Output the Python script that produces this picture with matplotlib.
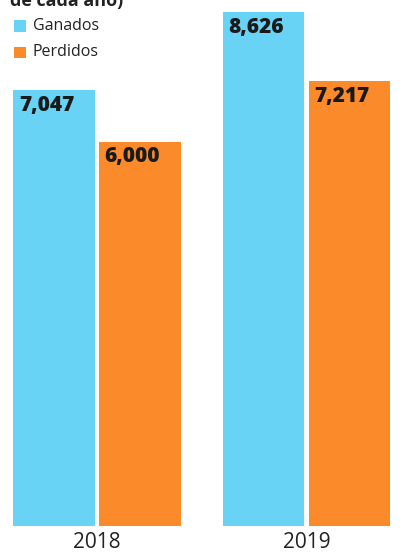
import matplotlib
matplotlib.use("Agg")
import matplotlib.pyplot as plt
import numpy as np

years = ["2018", "2019"]
ganados = [7047, 8626]
perdidos = [6000, 7217]
labels_g = ["7,047", "8,626"]
labels_p = ["6,000", "7,217"]
series_names = ["Ganados", "Perdidos"]

BLUE = "#68d3f4"
ORANGE = "#fa8a2a"

W, H = 403, 555
fig = plt.figure(figsize=(W / 100, H / 100), dpi=100)
fig.patch.set_facecolor("white")

ax = fig.add_axes([0, (H - 526) / H, 1, 526 / H])
base = -1780
x = np.arange(len(years))
w = 0.39
off = 0.205
ax.bar(x - off, np.array(ganados) - base, w, bottom=base, color=BLUE, linewidth=0)
ax.bar(x + off, np.array(perdidos) - base, w, bottom=base, color=ORANGE, linewidth=0)
ax.set_xlim(-0.463, 1.461)
ax.set_ylim(base, 8866)
ax.axis("off")

bold_font = ["Open Sans", "DejaVu Sans"]
for i in range(len(years)):
    ax.annotate(labels_g[i], (x[i] - off - w / 2, ganados[i]), xytext=(4, -3.5),
                textcoords="offset points", ha="left", va="top",
                fontsize=15, fontweight=800, family=bold_font, color="#1a1a1a")
    ax.annotate(labels_p[i], (x[i] + off - w / 2, perdidos[i]), xytext=(4, -3.5),
                textcoords="offset points", ha="left", va="top",
                fontsize=15, fontweight=800, family=bold_font, color="#1a1a1a")
    ax.annotate(years[i], (x[i], base), xytext=(0, -4), textcoords="offset points",
                ha="center", va="top", fontsize=15, family=["Open Sans", "DejaVu Sans"],
                color="#222222", annotation_clip=False)

# legend
for j, (name, col) in enumerate(zip(series_names, [BLUE, ORANGE])):
    yc = 1 - (26 + j * 26) / H
    fig.patches.append(plt.Rectangle((14 / W, yc - 5.5 / H), 12 / W, 11 / H,
                                     transform=fig.transFigure, color=col, linewidth=0))
    fig.text(33 / W, yc, name, ha="left", va="center", fontsize=11.5,
             family=["Open Sans", "DejaVu Sans"], color="#222222")

# cut-off title line (partially outside the top edge, as in the reference)
fig.text(10 / W, 1 - 6 / H, "de cada año)", ha="left", va="baseline", fontsize=13,
         fontweight="bold", family=bold_font, color="#222222")

fig.savefig("out.png", dpi=100, facecolor="white")
